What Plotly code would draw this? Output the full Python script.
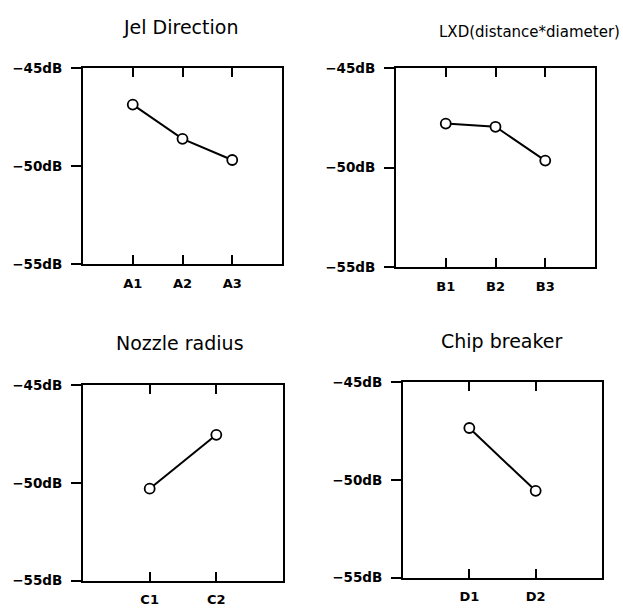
import plotly.graph_objects as go

W, H = 623, 614

# ---- data ----
titles = ["Jel Direction", "LXD(distance*diameter)", "Nozzle radius", "Chip breaker"]
levels_A = ["A1", "A2", "A3"]
values_A = [-46.85, -48.6, -49.68]
levels_B = ["B1", "B2", "B3"]
values_B = [-47.78, -47.94, -49.64]
levels_C = ["C1", "C2"]
values_C = [-50.3, -47.55]
levels_D = ["D1", "D2"]
values_D = [-47.35, -50.56]
y_tickvals = [-55, -50, -45]
y_ticktext = ["\u221255dB", "\u221250dB", "\u221245dB"]

# ---- layout (pixel boxes: left, right, top, bottom) ----
boxes = [(83, 282, 62, 263), (396, 595, 62, 266), (83, 283, 387, 588), (403, 602, 384, 585)]
title_pos = [(180, 19, 19), (529, 25, 15), (180, 344, 19), (501, 342, 19)]
right_tick = [False, True, True, True]

panels = [(levels_A, values_A), (levels_B, values_B), (levels_C, values_C), (levels_D, values_D)]

fig = go.Figure()
layout = dict(
    width=W, height=H, margin=dict(l=0, r=0, t=0, b=0),
    paper_bgcolor="white", plot_bgcolor="white", showlegend=False,
    font=dict(family="DejaVu Sans", color="black"),
)
annotations = []
for i, ((levels, vals), (l, r, t, b)) in enumerate(zip(panels, boxes)):
    n = i + 1
    xs = list(range(1, len(levels) + 1))
    xa = "x" if n == 1 else f"x{n}"
    ya = "y" if n == 1 else f"y{n}"
    fig.add_trace(go.Scatter(
        x=xs, y=vals, xaxis=xa, yaxis=ya, mode="lines+markers",
        line=dict(color="black", width=2),
        marker=dict(symbol="circle", size=10, color="white",
                    line=dict(color="black", width=1.8)),
        cliponaxis=False,
    ))
    xkey = "xaxis" if n == 1 else f"xaxis{n}"
    ykey = "yaxis" if n == 1 else f"yaxis{n}"
    layout[xkey] = dict(
        domain=[l / W, r / W], anchor=ya, range=[0, len(levels) + 1],
        showgrid=False, zeroline=False, showline=True, linecolor="black",
        linewidth=2, mirror="ticks", ticks="inside", ticklen=9, tickwidth=1.5,
        tickcolor="black", tickvals=xs, ticktext=levels,
        tickfont=dict(family="DejaVu Sans", size=13, color="black", weight="bold"),
        ticklabelstandoff=6, fixedrange=True,
    )
    layout[ykey] = dict(
        domain=[1 - b / H, 1 - t / H], anchor=xa, range=[-55, -45],
        showgrid=False, zeroline=False, showline=True, linecolor="black",
        linewidth=2, mirror=True, ticks="outside", ticklen=10, tickwidth=1.5,
        tickcolor="black", tickvals=y_tickvals, ticktext=y_ticktext,
        tickfont=dict(family="DejaVu Sans", size=13.5, color="black", weight="bold"),
        ticklabelstandoff=6, fixedrange=True,
    )
    if right_tick[i]:
        k = 4 + n
        layout[f"yaxis{k}"] = dict(
            overlaying=ya, anchor=xa, side="right", range=[-55, -45],
            showgrid=False, zeroline=False, showline=False,
            ticks="inside", ticklen=9, tickwidth=1.5, tickcolor="black",
            tickvals=[-50], showticklabels=False, fixedrange=True,
        )
    cx, cy, fs = title_pos[i]
    annotations.append(dict(
        text=titles[i], xref="paper", yref="paper", x=cx / W, y=1 - cy / H,
        xanchor="center", yanchor="middle", showarrow=False,
        font=dict(family="DejaVu Sans", size=fs, color="black"),
    ))

layout["annotations"] = annotations
fig.update_layout(**layout)
fig.write_html("out.html", config={"displayModeBar": False},
               post_script="document.body.style.margin='0';document.body.style.overflow='hidden';")
